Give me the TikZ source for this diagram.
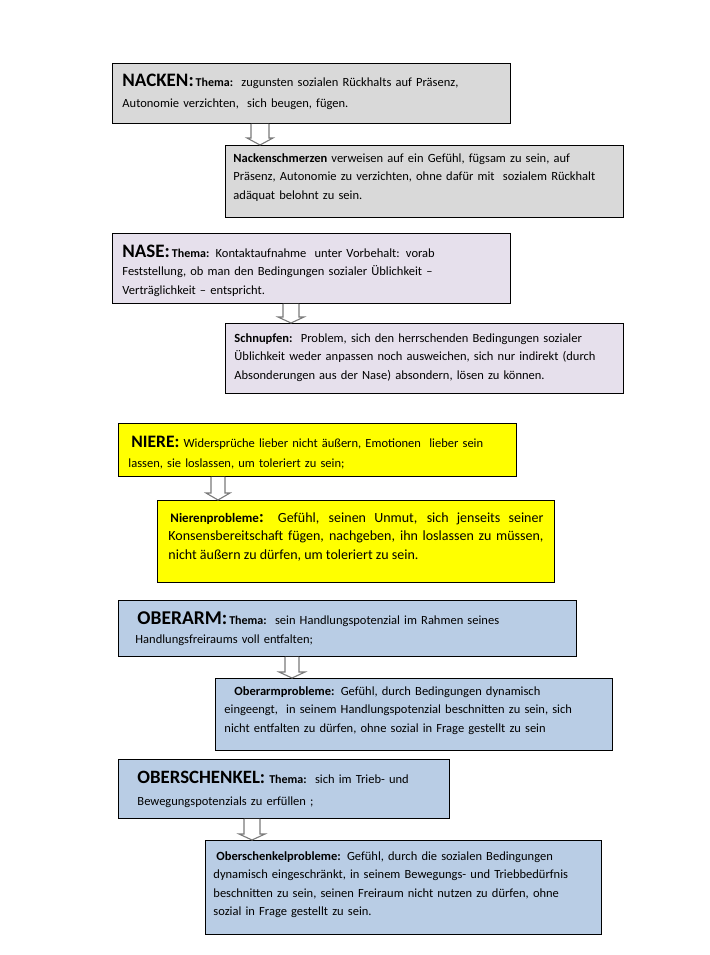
\documentclass[tikz,border=0pt]{standalone}
\usepackage{fontspec}
\setmainfont{Carlito}
\usepackage{xcolor}
\usepackage{tikz}
\usetikzlibrary{arrows.meta, positioning, calc}

\definecolor{boxgray}{HTML}{D9D9D9}
\definecolor{boxlilac}{HTML}{E6E0EC}
\definecolor{boxyellow}{HTML}{FFFF00}
\definecolor{boxblue}{HTML}{B9CDE5}
\definecolor{arrowgray}{HTML}{7A7A7A}

\begin{document}
\begin{tikzpicture}[x=1pt, y=-1pt,
    every node/.style={font=\fontsize{12.5}{18.5}\selectfont},
    box/.style={draw=black, line width=0.9pt, anchor=north west, align=left, inner ysep=0pt},
    blockarrow/.style={draw=arrowgray, fill=white, line width=1.1pt}]
    \useasboundingbox (0,0) rectangle (709,955);

    % Nacken
    \node[box, fill=boxgray, inner xsep=10pt, text width=378pt, text height=23pt, text depth=37pt] (nacken) at (112,63)
        {{\fontsize{19}{18}\selectfont\bfseries NACKEN:}{\fontsize{12}{18}\selectfont\bfseries\,Thema:}\ \ zugunsten sozialen Rückhalts auf Präsenz,\\[3pt]
         Autonomie verzichten,\ \ sich beugen, fügen.};
    \node[box, fill=boxgray, inner xsep=8pt, text width=382pt, text height=17pt, text depth=55pt] (nackenP) at (225,145)
        {\textbf{Nackenschmerzen} verweisen auf ein Gefühl, fügsam zu sein, auf\\
         Präsenz, Autonomie zu verzichten, ohne dafür mit\ \ sozialem Rückhalt\\
         adäquat belohnt zu sein.};

    % Nase
    \node[box, fill=boxlilac, inner xsep=10pt, text width=378pt, text height=24pt, text depth=46pt] (nase) at (112,233)
        {{\fontsize{19}{18}\selectfont\bfseries NASE:}{\fontsize{12}{18}\selectfont\bfseries\,Thema:} Kontaktaufnahme\ \ unter Vorbehalt: vorab\\
         Feststellung, ob man den Bedingungen sozialer Üblichkeit --\\
         Verträglichkeit -- entspricht.};
    \node[box, fill=boxlilac, inner xsep=9pt, text width=380pt, text height=19pt, text depth=51pt] (naseP) at (225,323)
        {\textbf{Schnupfen:}\ \ Problem, sich den herrschenden Bedingungen sozialer\\
         Üblichkeit weder anpassen noch ausweichen, sich nur indirekt (durch\\
         Absonderungen aus der Nase) absondern, lösen zu können.};

    % Niere
    \node[box, fill=boxyellow, inner xsep=10pt, text width=378pt, text height=24pt, text depth=29pt] (niere) at (118,423)
        {\hspace*{3pt}{\fontsize{17.5}{18}\selectfont\bfseries NIERE:}\ Widersprüche lieber nicht äußern, Emotionen\ \ lieber sein\\[2pt]
         lassen, sie loslassen, um toleriert zu sein;};
    \node[box, fill=boxyellow, inner xsep=11pt, text width=375pt, text height=22pt, text depth=60pt, align=justify] (niereP) at (157,500)
        {\fontsize{14}{18}\selectfont\hspace*{2pt}{\fontsize{13}{18}\selectfont\bfseries Nierenprobleme}{\fontsize{17}{18}\selectfont\bfseries :} Gefühl, seinen Unmut, sich jenseits seiner\linebreak
         Konsensbereitschaft fügen, nachgeben, ihn loslassen zu müssen,\linebreak
         nicht äußern zu dürfen, um toleriert zu sein.};

    % Oberarm
    \node[box, fill=boxblue, inner xsep=17pt, text width=424pt, text height=24pt, text depth=32pt] (oberarm) at (118,600)
        {\hspace*{2pt}{\fontsize{19.5}{18}\selectfont\bfseries OBERARM:}{\fontsize{12}{18}\selectfont\bfseries\,Thema:}\ \ sein Handlungspotenzial\ im Rahmen seines\\[1pt]
         Handlungsfreiraums voll entfalten;};
    \node[box, fill=boxblue, inner xsep=9pt, text width=379pt, text height=17pt, text depth=55pt] (oberarmP) at (215,678)
        {\hspace*{10pt}\textbf{Oberarmprobleme:} Gefühl, durch Bedingungen dynamisch\\
         eingeengt,\ \ in seinem Handlungspotenzial\ beschnitten zu sein, sich\\
         nicht entfalten zu dürfen, ohne sozial\ in Frage gestellt zu sein};

    % Oberschenkel
    \node[box, fill=boxblue, inner xsep=19pt, text width=293pt, text height=24pt, text depth=35pt] (oberschenkel) at (118,759)
        {{\fontsize{18.8}{18}\selectfont\bfseries OBERSCHENKEL:}\ {\fontsize{12}{18}\selectfont\bfseries Thema:}\ \ sich im Trieb- und\\[4pt]
         Bewegungspotenzials zu erfüllen ;};
    \node[box, fill=boxblue, inner xsep=8pt, text width=380pt, text height=20pt, text depth=74pt] (oberschenkelP) at (205,840)
        {\hspace*{3pt}\textbf{Oberschenkelprobleme:} Gefühl, durch die sozialen Bedingungen\\
         dynamisch eingeschränkt, in seinem Bewegungs- und Triebbedürfnis\\
         beschnitten zu sein, seinen Freiraum nicht nutzen zu dürfen, ohne\\
         sozial in Frage gestellt zu sein.};

    % Block arrows
    \coordinate (ax1) at (260,0);
    \coordinate (ax2) at (291,0);
    \coordinate (ax3) at (218,0);
    \coordinate (ax4) at (292,0);
    \coordinate (ax5) at (252,0);
    \filldraw[blockarrow] ($(nacken.south -| ax1)+(-9,0)$) |- ($(nackenP.north -| ax1)+(-13,-7)$) -- (nackenP.north -| ax1)
        -- ($(nackenP.north -| ax1)+(13,-7)$) -| ($(nacken.south -| ax1)+(9,0)$);
    \filldraw[blockarrow] ($(nase.south -| ax2)+(-8,0)$) |- ($(naseP.north -| ax2)+(-13,-6)$) -- (naseP.north -| ax2)
        -- ($(naseP.north -| ax2)+(13,-6)$) -| ($(nase.south -| ax2)+(8,0)$);
    \filldraw[blockarrow] ($(niere.south -| ax3)+(-7,0)$) |- ($(niereP.north -| ax3)+(-12,-7)$) -- (niereP.north -| ax3)
        -- ($(niereP.north -| ax3)+(12,-7)$) -| ($(niere.south -| ax3)+(7,0)$);
    \filldraw[blockarrow] ($(oberarm.south -| ax4)+(-7,0)$) |- ($(oberarmP.north -| ax4)+(-13,-6)$) -- (oberarmP.north -| ax4)
        -- ($(oberarmP.north -| ax4)+(13,-6)$) -| ($(oberarm.south -| ax4)+(7,0)$);
    \filldraw[blockarrow] ($(oberschenkel.south -| ax5)+(-8,0)$) |- ($(oberschenkelP.north -| ax5)+(-13,-6)$) -- (oberschenkelP.north -| ax5)
        -- ($(oberschenkelP.north -| ax5)+(13,-6)$) -| ($(oberschenkel.south -| ax5)+(8,0)$);
\end{tikzpicture}
\end{document}
